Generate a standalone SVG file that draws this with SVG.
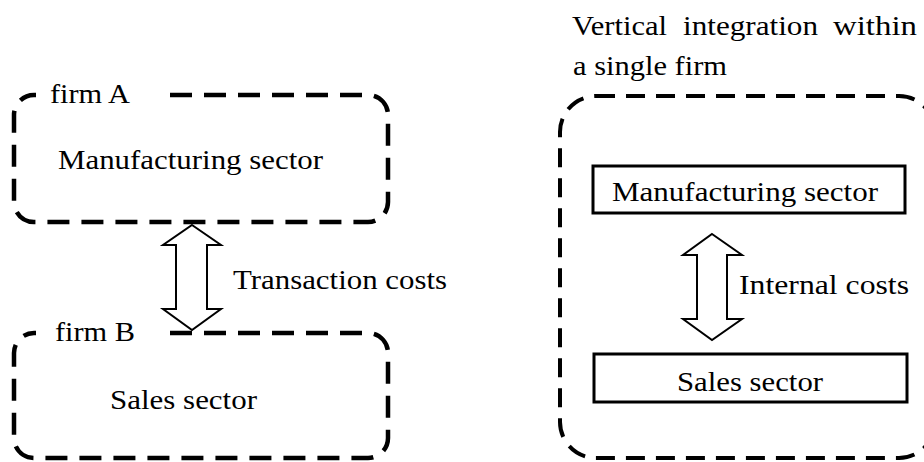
<svg xmlns="http://www.w3.org/2000/svg" width="924" height="462" viewBox="0 0 924 462">
<style>
.firm{fill:none;stroke:#000;stroke-width:4.5;stroke-dasharray:22 12}
.firm2{fill:none;stroke:#000;stroke-width:4;stroke-dasharray:19 11}
.sector{fill:#fff;stroke:#000;stroke-width:3}
.arrow{fill:#fff;stroke:#000;stroke-width:2;stroke-linejoin:miter}
</style>
<rect width="924" height="462" fill="#fff"/>
<g font-family="Liberation Serif, DejaVu Serif, Times New Roman, serif" font-size="27" fill="#000">
<g id="firmA">
<rect class="firm" x="14" y="95" width="374" height="127" rx="20"/>
<rect x="36" y="82" width="126" height="24" fill="#fff"/>
<text x="50" y="103" textLength="80" lengthAdjust="spacingAndGlyphs">firm A</text>
<text x="58" y="169" textLength="265" lengthAdjust="spacingAndGlyphs">Manufacturing sector</text>
</g>
<g id="firmB">
<rect class="firm" x="14" y="333" width="374" height="125" rx="20"/>
<rect x="36" y="320" width="126" height="24" fill="#fff"/>
<text x="55" y="341" textLength="80" lengthAdjust="spacingAndGlyphs">firm B</text>
<text x="110" y="409" textLength="147" lengthAdjust="spacingAndGlyphs">Sales sector</text>
</g>
<g id="integrated">
<rect class="firm2" x="560" y="96" width="375" height="362" rx="36"/>
<text y="35"><tspan x="572" textLength="95" lengthAdjust="spacingAndGlyphs">Vertical</tspan><tspan x="683" textLength="135" lengthAdjust="spacingAndGlyphs">integration</tspan><tspan x="833" textLength="84" lengthAdjust="spacingAndGlyphs">within</tspan></text>
<text x="573" y="75" textLength="154" lengthAdjust="spacingAndGlyphs">a single firm</text>
</g>
<g id="mfg">
<rect class="sector" x="593" y="166" width="312" height="47"/>
<text x="612" y="201" textLength="266" lengthAdjust="spacingAndGlyphs">Manufacturing sector</text>
</g>
<g id="sales">
<rect class="sector" x="594" y="354" width="313" height="48"/>
<text x="677" y="391" textLength="146" lengthAdjust="spacingAndGlyphs">Sales sector</text>
</g>
<g id="connectors">
<path class="arrow" d="M192,225 L221,245 L207,245 L207,309 L221,309 L192,330 L163,309 L176,309 L176,245 L163,245 Z"/>
<text x="233" y="289" textLength="214" lengthAdjust="spacingAndGlyphs">Transaction costs</text>
<path class="arrow" d="M712,234 L742,255 L727,255 L727,319 L742,319 L712,340 L683,319 L697,319 L697,255 L683,255 Z"/>
<text x="739" y="294" textLength="170" lengthAdjust="spacingAndGlyphs">Internal costs</text>
</g>
</g>
</svg>
